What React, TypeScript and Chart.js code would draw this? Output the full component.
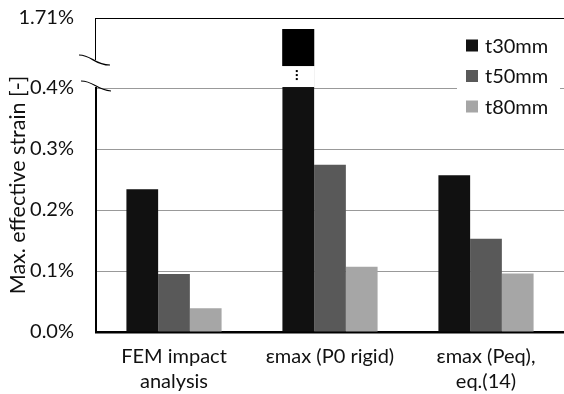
import React, { useEffect, useRef } from 'react';
import { Chart, registerables } from 'chart.js';

Chart.register(...registerables);

// ---- data ----
const categories: string[][] = [['FEM impact', 'analysis'], ['εmax (P0 rigid)'], ['εmax (Peq),', 'eq.(14)']];
const seriesNames = ['t30mm', 't50mm', 't80mm'];
const t30 = [0.234, 1.71, 0.257];
const t50 = [0.095, 0.274, 0.153];
const t80 = [0.039, 0.107, 0.096];
const yTicks = [0, 0.1, 0.2, 0.3, 0.4];
const topTickLabel = '1.71%';
const yTitle = 'Max. effective strain [-]';

// ---- broken axis settings ----
const BREAK = 0.4;          // where the axis is broken
const UPPER_K = 0.0738;     // compression of values above the break
const AXIS_TOP = 0.5148;    // display value of the top line
const GAP = 0.036;          // white gap in the broken bar (display units)

const colors = ['#111111', '#595959', '#a6a6a6'];
const FONT = 'Lato, "Open Sans", sans-serif';
const seriesValues = [t30, t50, t80];

const toDisplay = (v: number) => (v <= BREAK ? v : BREAK + (v - BREAK) * UPPER_K);

const breakPlugin = {
  id: 'axisBreak',
  afterDatasetsDraw(chart: any) {
    const { ctx, chartArea, scales } = chart;
    const y = scales.y;
    const yBreak = y.getPixelForValue(BREAK);
    const gapTop = y.getPixelForValue(BREAK + GAP);
    const left = chartArea.left;
    ctx.save();
    chart.data.datasets.forEach((_ds: any, di: number) => {
      const meta = chart.getDatasetMeta(di);
      meta.data.forEach((bar: any, i: number) => {
        if (seriesValues[di][i] > BREAK) {
          const { x, width, y: topY } = bar.getProps(['x', 'width', 'y'], true);
          ctx.fillStyle = '#000';
          ctx.fillRect(x - width / 2, topY, width, gapTop - topY);
          ctx.fillStyle = '#fff';
          ctx.fillRect(x - width / 2 - 0.5, gapTop, width + 1, yBreak - gapTop - 1);
          ctx.fillStyle = '#000';
          for (let k = 0; k < 3; k++) ctx.fillRect(x - 2.5, gapTop + 4 + k * 4, 2, 2);
        }
      });
    });
    // left axis (broken)
    ctx.strokeStyle = '#000';
    ctx.lineWidth = 2;
    ctx.beginPath();
    ctx.moveTo(left, yBreak - 1);
    ctx.lineTo(left, chartArea.bottom);
    ctx.stroke();
    ctx.lineWidth = 1;
    ctx.beginPath();
    ctx.moveTo(left - 0.5, chartArea.top);
    ctx.lineTo(left - 0.5, yBreak - 28);
    ctx.stroke();
    // break marks
    ctx.lineWidth = 1.2;
    ctx.beginPath();
    ctx.moveTo(left - 17, yBreak - 33);
    ctx.bezierCurveTo(left - 4, yBreak - 33, left - 2, yBreak - 23, left + 14, yBreak - 23);
    ctx.stroke();
    ctx.beginPath();
    ctx.moveTo(left - 15, yBreak - 7);
    ctx.bezierCurveTo(left - 2, yBreak - 7, left, yBreak + 2, left + 15, yBreak + 3);
    ctx.stroke();
    ctx.restore();
  },
  afterDraw(chart: any) {
    const { ctx, chartArea } = chart;
    ctx.save();
    // legend
    const bx = chartArea.right - 107;
    const by = chartArea.top + 10;
    ctx.fillStyle = '#fff';
    ctx.fillRect(bx, by, 103, 94);
    ctx.font = `20px ${FONT}`;
    ctx.textBaseline = 'middle';
    ctx.textAlign = 'left';
    seriesNames.forEach((name, i) => {
      const cy = chartArea.top + 27.5 + i * 30.5;
      ctx.fillStyle = colors[i];
      ctx.fillRect(bx + 9, cy - 6, 12, 12);
      ctx.fillStyle = '#111';
      ctx.fillText(name, bx + 28, cy + 1);
    });
    // y title
    ctx.font = `21.5px ${FONT}`;
    ctx.translate(18, (chartArea.top + chartArea.bottom) / 2 + 10);
    ctx.rotate(-Math.PI / 2);
    ctx.textAlign = 'center';
    ctx.fillStyle = '#111';
    ctx.fillText(yTitle, 0, 0);
    ctx.restore();
  },
};

export default function App() {
  const ref = useRef<HTMLCanvasElement>(null);
  useEffect(() => {
    if (!ref.current) return;
    const chart = new Chart(ref.current, {
      type: 'bar',
      data: {
        labels: categories as any,
        datasets: seriesNames.map((name, i) => ({
          label: name,
          data: seriesValues[i].map(toDisplay),
          backgroundColor: colors[i],
          borderWidth: 0,
          categoryPercentage: 0.61,
          barPercentage: 1,
        })),
      },
      options: {
        responsive: false,
        animation: false,
        events: [],
        layout: { padding: { top: 18, left: 0, right: 0, bottom: 0 } },
        plugins: { legend: { display: false }, tooltip: { enabled: false } },
        scales: {
          x: {
            grid: { display: false },
            border: { display: true, color: '#000', width: 2.5 },
            ticks: { color: '#111', font: { family: FONT, size: 20, lineHeight: 1.25 }, padding: 4, maxRotation: 0 },
            afterFit: (s: any) => { s.height = 62; s.paddingLeft = 0; s.paddingRight = 0; },
          },
          y: {
            min: 0,
            max: AXIS_TOP,
            border: { display: false },
            grid: {
              drawTicks: false,
              lineWidth: 1,
              color: (c: any) => (c.tick.value === AXIS_TOP ? '#000' : c.tick.value === 0 ? 'rgba(0,0,0,0)' : '#999'),
            },
            afterBuildTicks: (s: any) => { s.ticks = [...yTicks, AXIS_TOP].map((v) => ({ value: v })); },
            ticks: {
              color: '#111',
              padding: 22,
              font: { family: FONT, size: 20 },
              callback: (v: any) => (v === AXIS_TOP ? topTickLabel : `${Number(v).toFixed(1)}%`),
            },
            afterFit: (s: any) => { s.width = 96; s.paddingTop = 0; s.paddingBottom = 0; },
          },
        },
      },
      plugins: [breakPlugin],
    });
    return () => chart.destroy();
  }, []);
  return (
    <div style={{ position: 'fixed', left: 0, top: 0, width: 564, height: 394, background: '#fff' }}>
      <canvas ref={ref} width={564} height={394} style={{ display: 'block' }} />
    </div>
  );
}
